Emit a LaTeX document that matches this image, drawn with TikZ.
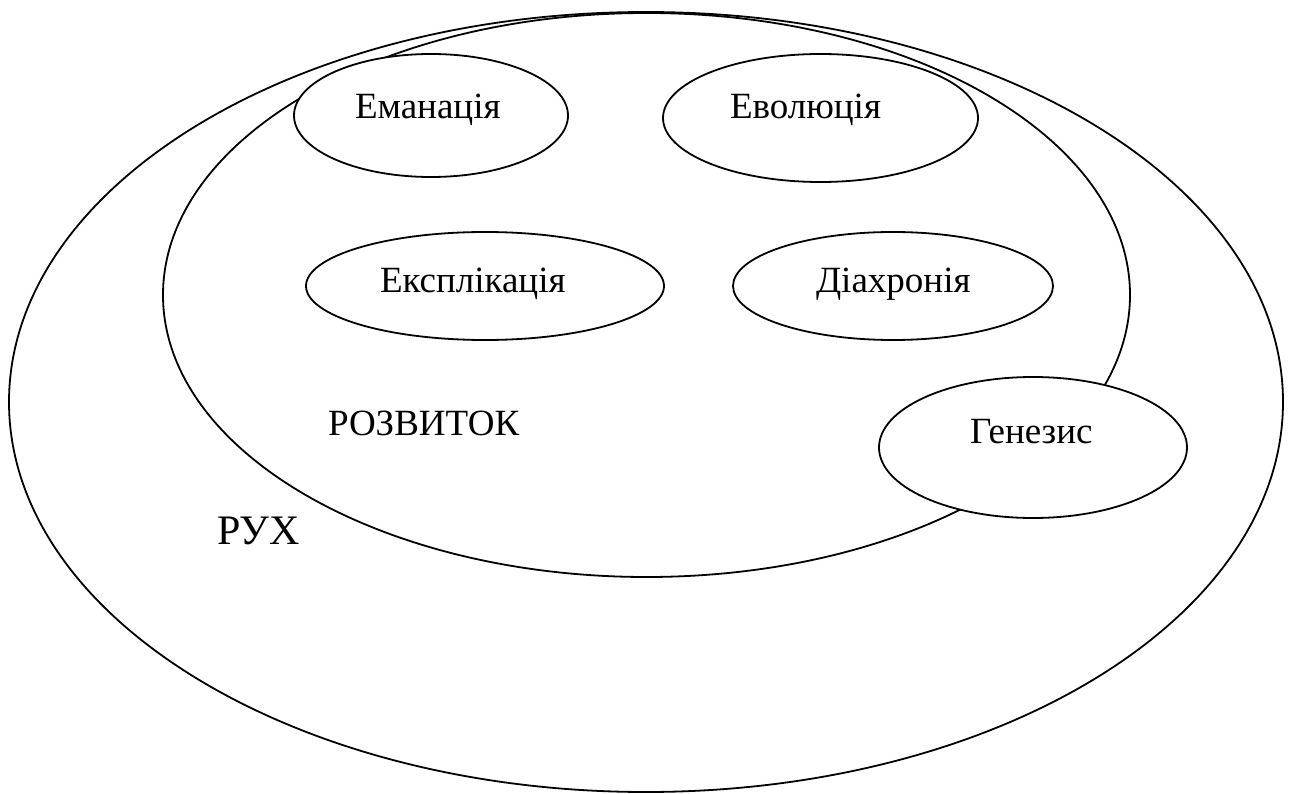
\documentclass[tikz,border=0pt]{standalone}
\usepackage{fontspec}
\setmainfont{Liberation Serif}
\newfontfamily\tnr{Liberation Serif}
\usetikzlibrary{shapes.geometric}
\begin{document}
\begin{tikzpicture}[x=1pt,y=-1pt,
  ring/.style={draw=black, line width=1.8pt, ellipse, inner sep=0pt, outer sep=0pt},
  term/.style={ring, fill=white},
  lbl/.style={anchor=base west, inner sep=0pt, outer sep=0pt, font=\tnr\fontsize{37}{44}\selectfont},
  biglbl/.style={lbl, font=\tnr\fontsize{42}{50}\selectfont}]
\useasboundingbox (0,0) rectangle (1291,794);
% outer and inner ellipses
\node[ring, minimum width=1274pt, minimum height=780pt] (ruh) at (646,402) {};
\node[ring, minimum width=967pt, minimum height=564pt] (rozvytok) at (646.5,295) {};
% small ellipses
\node[term, minimum width=274pt, minimum height=123pt] (eman) at (431,115.5) {};
\node[term, minimum width=315pt, minimum height=128pt] (evol) at (820.5,118) {};
\node[term, minimum width=358pt, minimum height=108pt] (ekspl) at (485,286) {};
\node[term, minimum width=320pt, minimum height=108pt] (diakh) at (893,286) {};
\node[term, minimum width=308pt, minimum height=141pt] (genez) at (1033,447.5) {};
% labels
\node[lbl] (t-eman) at (355,119) {Еманація};
\node[lbl] (t-evol) at (730,119) {Еволюція};
\node[lbl] (t-ekspl) at (380,293) {Експлікація};
\node[lbl] (t-diakh) at (816,293) {Діахронія};
\node[lbl] (t-genez) at (970,443) {Генезис};
\node[lbl] (t-rozv) at (328,435) {РОЗВИТОК};
\node[biglbl] (t-ruh) at (217,544) {РУХ};
\end{tikzpicture}
\end{document}
